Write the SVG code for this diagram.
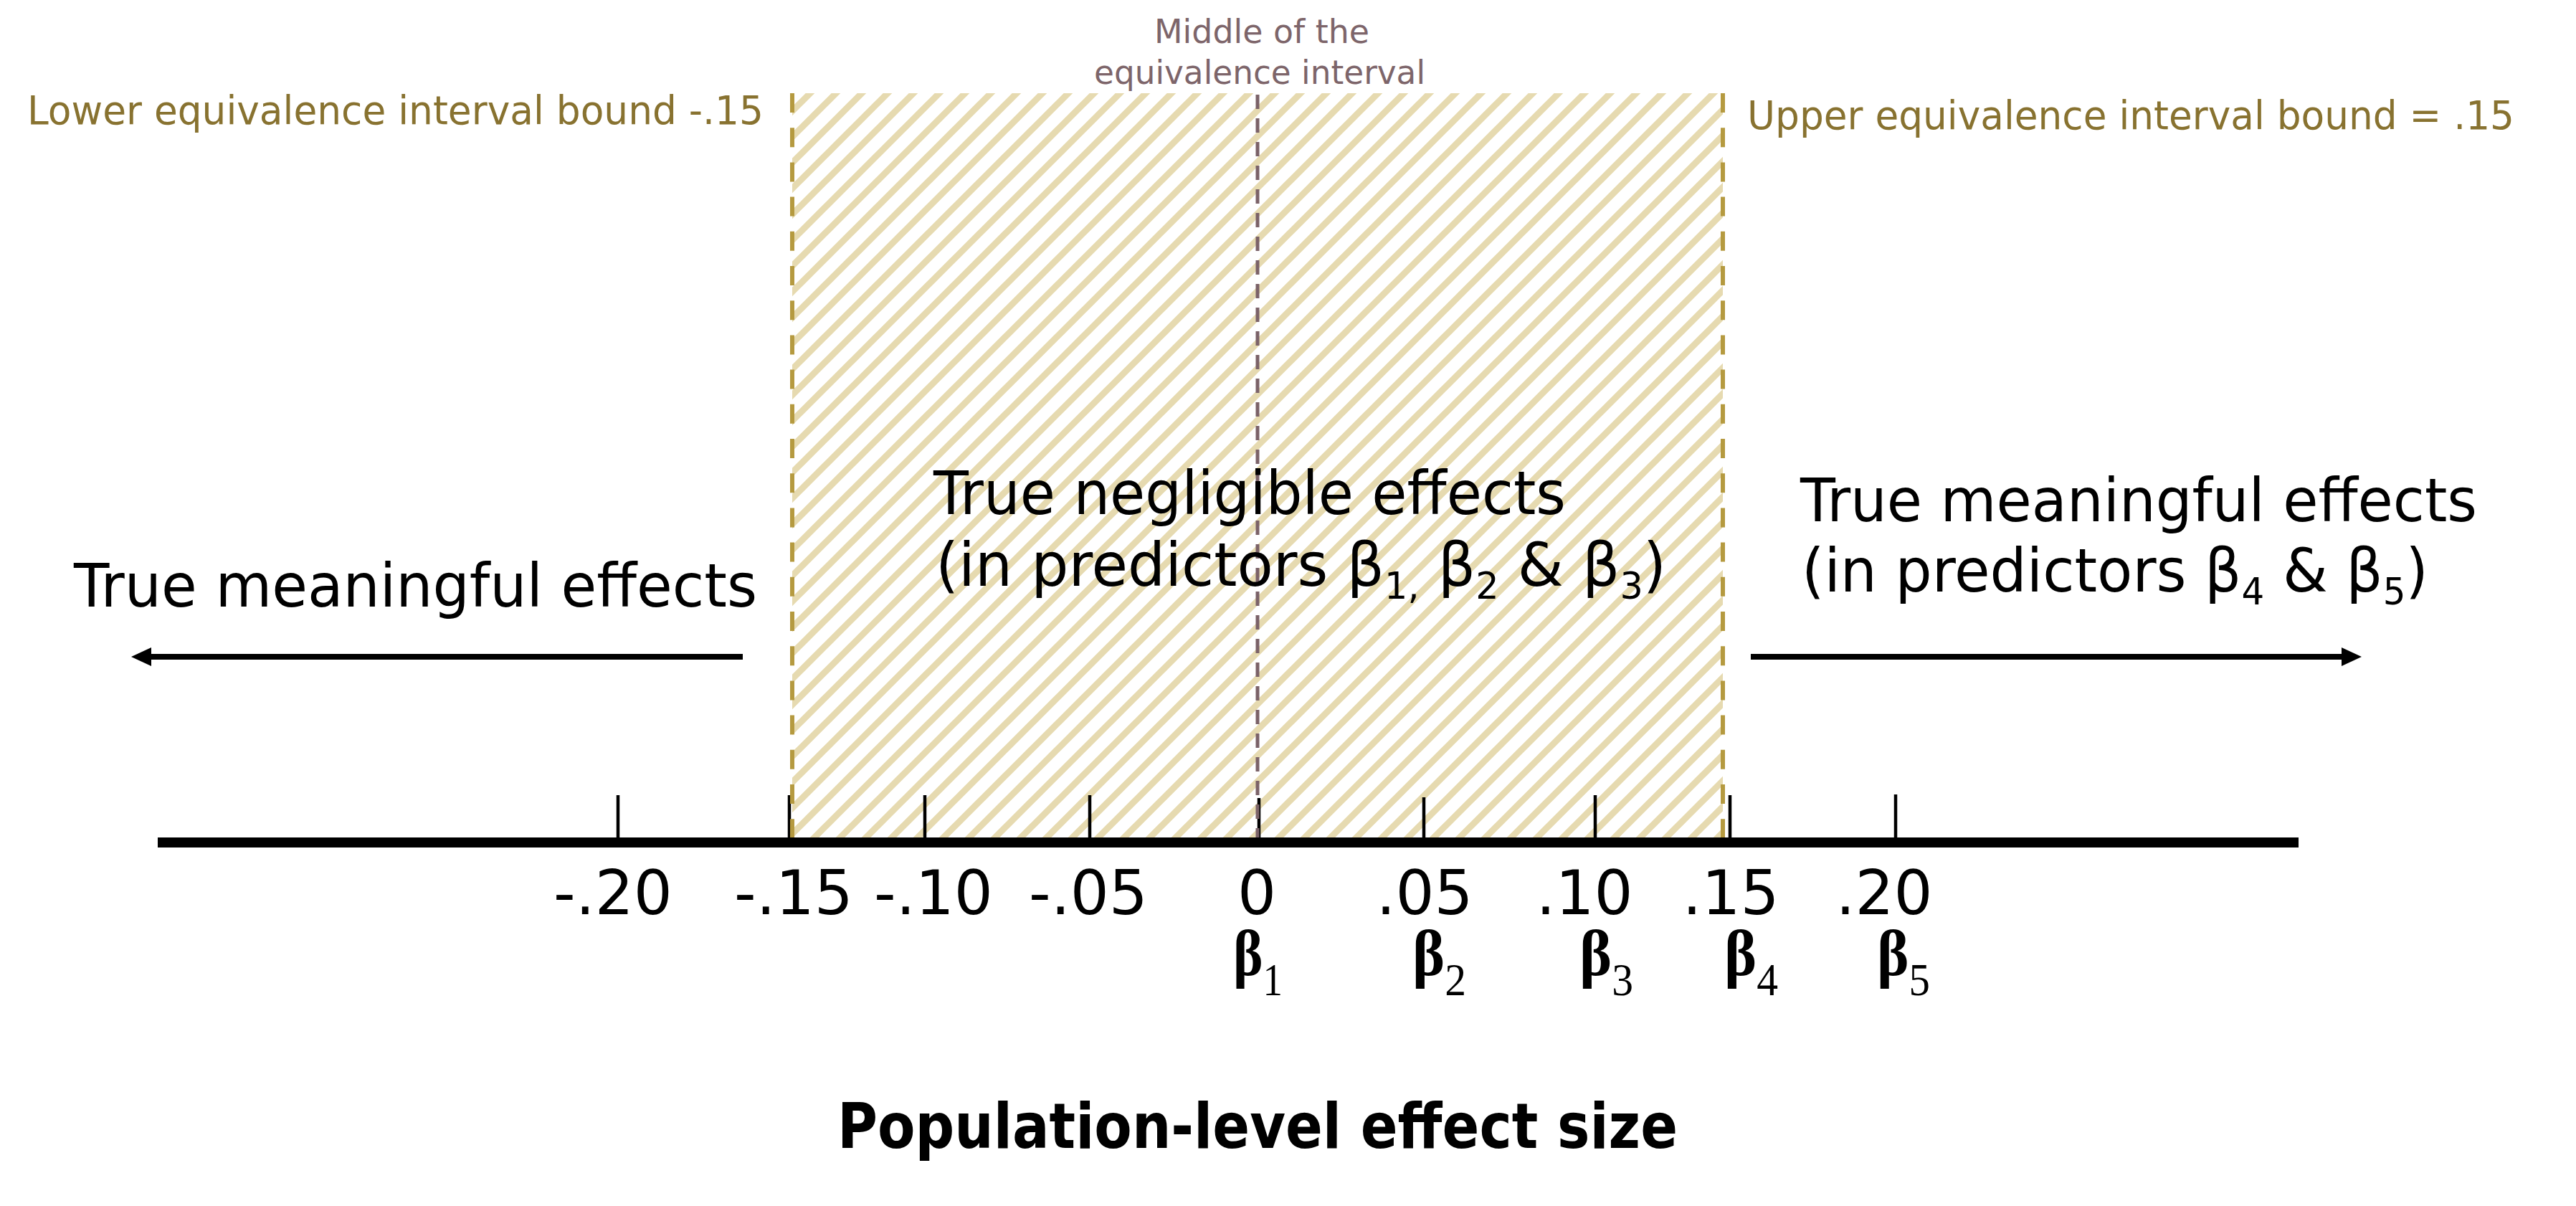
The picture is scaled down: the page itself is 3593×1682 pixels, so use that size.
<svg xmlns="http://www.w3.org/2000/svg" width="3593" height="1682" viewBox="0 0 3593 1682">
<style>
text{font-family:"DejaVu Sans","Noto Sans",sans-serif}
.tl{font-size:85px;text-anchor:middle;fill:#000}
.tick{stroke:#000;stroke-width:4.5}
.big{font-size:84px;fill:#000}
.bound{stroke:#b59a40;stroke-width:6;stroke-dasharray:27 21.2;fill:none}
.btxt{font-size:56px;fill:#887230}
.mid{stroke:#7b6268;stroke-width:5;stroke-dasharray:20 13}
.mtxt{font-size:47px;fill:#7d656a;text-anchor:middle}
.beta{font-family:"Liberation Serif","DejaVu Serif",serif;font-size:92px;font-weight:bold;fill:#000}
.sub{font-weight:normal;font-size:64px}
.arrow{stroke:#000;stroke-width:8;fill:none}
.title{font-size:87px;font-weight:bold;fill:#000}
</style>
<defs>
<pattern id="hatch" patternUnits="userSpaceOnUse" width="36" height="36">
<path d="M-9,9 L9,-9 M0,36 L36,0 M27,45 L45,27" stroke="#e6dab0" stroke-width="9"/>
</pattern>
<marker id="ah" viewBox="0 0 28 26" markerWidth="28" markerHeight="26" refX="6" refY="13" orient="auto" markerUnits="userSpaceOnUse">
<path d="M0,0 L28,13 L0,26 z" fill="#000"/>
</marker>
</defs>
<rect width="3593" height="1682" fill="#fff"/>

<g id="equivalence-region">
<rect x="1105" y="130" width="1298" height="1040" fill="url(#hatch)"/>
</g>

<g id="ticks">
<line class="tick" x1="862" y1="1109" x2="862" y2="1170"/>
<line class="tick" x1="1101" y1="1109" x2="1101" y2="1170"/>
<line class="tick" x1="1290" y1="1109" x2="1290" y2="1170"/>
<line class="tick" x1="1520" y1="1109" x2="1520" y2="1170"/>
<line class="tick" x1="1756" y1="1113" x2="1756" y2="1170"/>
<line class="tick" x1="1986" y1="1112" x2="1986" y2="1170"/>
<line class="tick" x1="2225" y1="1109" x2="2225" y2="1170"/>
<line class="tick" x1="2413" y1="1109" x2="2413" y2="1170"/>
<line class="tick" x1="2644" y1="1108" x2="2644" y2="1170"/>
</g>

<g id="lower-bound">
<line class="bound" x1="1105" y1="130" x2="1105" y2="1170"/>
<text class="btxt" x="38" y="173" textLength="1027" lengthAdjust="spacingAndGlyphs">Lower equivalence interval bound -.15</text>
</g>
<g id="upper-bound">
<line class="bound" x1="2403" y1="130" x2="2403" y2="1170"/>
<text class="btxt" x="2437" y="180" textLength="1070" lengthAdjust="spacingAndGlyphs">Upper equivalence interval bound = .15</text>
</g>
<g id="middle">
<line class="mid" x1="1754" y1="132" x2="1754" y2="1170"/>
<text class="mtxt" x="1760" y="60" textLength="300" lengthAdjust="spacingAndGlyphs">Middle of the</text>
<text class="mtxt" x="1757" y="117" textLength="462" lengthAdjust="spacingAndGlyphs">equivalence interval</text>
</g>

<g id="axis">
<line x1="220" y1="1175" x2="3206" y2="1175" stroke="#000" stroke-width="14"/>
</g>

<g id="tick-labels">
<text class="tl" x="855" y="1275">-.20</text>
<text class="tl" x="1107" y="1275">-.15</text>
<text class="tl" x="1302" y="1275">-.10</text>
<text class="tl" x="1518" y="1275">-.05</text>
<text class="tl" x="1753" y="1275">0</text>
<text class="tl" x="1987" y="1275">.05</text>
<text class="tl" x="2210" y="1275">.10</text>
<text class="tl" x="2414" y="1275">.15</text>
<text class="tl" x="2628" y="1275">.20</text>
</g>

<g id="beta-labels">
<text class="beta" x="1720" y="1360" textLength="69" lengthAdjust="spacingAndGlyphs">β<tspan class="sub" dy="28">1</tspan></text>
<text class="beta" x="1970" y="1360" textLength="75" lengthAdjust="spacingAndGlyphs">β<tspan class="sub" dy="28">2</tspan></text>
<text class="beta" x="2203" y="1360" textLength="75" lengthAdjust="spacingAndGlyphs">β<tspan class="sub" dy="28">3</tspan></text>
<text class="beta" x="2405" y="1360" textLength="75" lengthAdjust="spacingAndGlyphs">β<tspan class="sub" dy="28">4</tspan></text>
<text class="beta" x="2618" y="1360" textLength="74" lengthAdjust="spacingAndGlyphs">β<tspan class="sub" dy="28">5</tspan></text>
</g>

<g id="left-meaningful">
<text class="big" x="103" y="846" textLength="953" lengthAdjust="spacingAndGlyphs">True meaningful effects</text>
</g>
<g id="negligible">
<text class="big" x="1302" y="717" textLength="882" lengthAdjust="spacingAndGlyphs">True negligible effects</text>
<text class="big" x="1305" y="817" textLength="1019" lengthAdjust="spacingAndGlyphs">(in predictors β<tspan font-size="52" dy="18">1,</tspan><tspan dy="-18"> β</tspan><tspan font-size="52" dy="18">2</tspan><tspan dy="-18"> &amp; β</tspan><tspan font-size="52" dy="18">3</tspan><tspan dy="-18">)</tspan></text>
</g>
<g id="right-meaningful">
<text class="big" x="2511" y="727" textLength="944" lengthAdjust="spacingAndGlyphs">True meaningful effects</text>
<text class="big" x="2513" y="825" textLength="874" lengthAdjust="spacingAndGlyphs">(in predictors β<tspan font-size="52" dy="18">4</tspan><tspan dy="-18"> &amp; β</tspan><tspan font-size="52" dy="18">5</tspan><tspan dy="-18">)</tspan></text>
</g>

<g id="connectors">
<line class="arrow" x1="1036" y1="916" x2="205" y2="916" marker-end="url(#ah)"/>
<line class="arrow" x1="2442" y1="916" x2="3272" y2="916" marker-end="url(#ah)"/>
</g>

<g id="axis-title">
<text class="title" x="1168" y="1601" textLength="1172" lengthAdjust="spacingAndGlyphs">Population-level effect size</text>
</g>
</svg>
